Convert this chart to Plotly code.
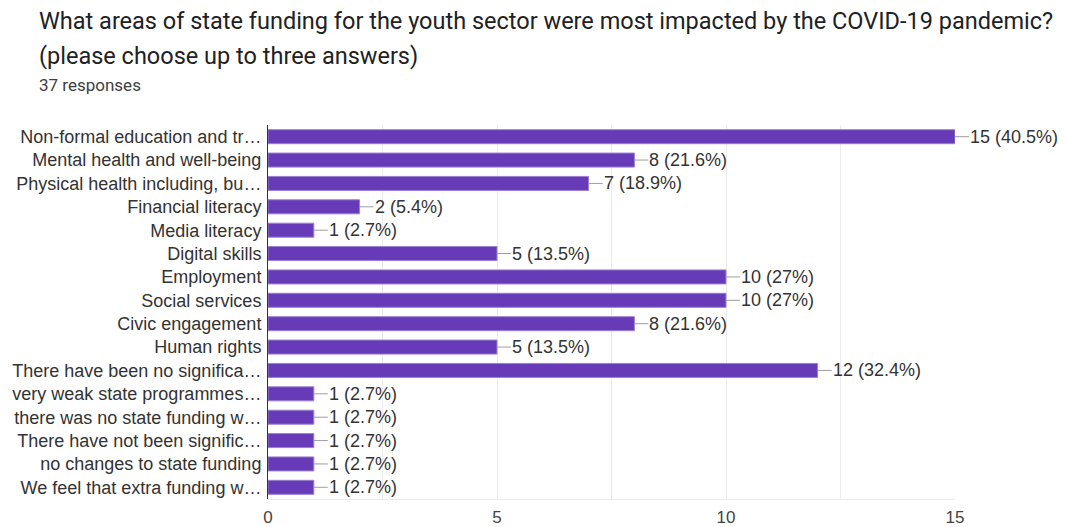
import plotly.graph_objects as go

# Survey question, answer options and response counts
title_line1 = "What areas of state funding for the youth sector were most impacted by the COVID-19 pandemic?"
title_line2 = "(please choose up to three answers)"
total_responses = 37

categories = [
    "Non-formal education and tr…",
    "Mental health and well-being",
    "Physical health including, bu…",
    "Financial literacy",
    "Media literacy",
    "Digital skills",
    "Employment",
    "Social services",
    "Civic engagement",
    "Human rights",
    "There have been no significa…",
    "very weak state programmes…",
    "there was no state funding w…",
    "There have not been signific…",
    "no changes to state funding",
    "We feel that extra funding w…",
]
counts = [15, 8, 7, 2, 1, 5, 10, 10, 8, 5, 12, 1, 1, 1, 1, 1]
x_ticks = [0, 5, 10, 15]


def pct_label(n):
    p = f"{100 * n / total_responses:.1f}".rstrip("0").rstrip(".")
    return f"{n} ({p}%)"


labels = [pct_label(n) for n in counts]

BAR = "#673ab7"
TEXT = "#333333"
SANS = "Liberation Sans, Arial, sans-serif"

L, R, T, B = 268, 112, 125, 28
PLOT_W = 1067 - L - R
TEXT_X = -(L - 37) / PLOT_W  # left edge of the header block, in paper units

fig = go.Figure()
fig.add_trace(go.Bar(
    x=counts,
    y=categories,
    orientation="h",
    marker=dict(color=BAR, line=dict(color="#9c80d0", width=1)),
    width=0.6,
    hoverinfo="x+y",
))

# value labels joined to the bar ends by a short grey leader line
for cat, n, lab in zip(categories, counts, labels):
    fig.add_annotation(
        x=n, y=cat, xref="x", yref="y",
        text=lab, showarrow=True, arrowhead=0, arrowwidth=1,
        arrowcolor="#9e9e9e", ax=14, ay=0, xanchor="left",
        standoff=0, startstandoff=0, borderpad=0,
        font=dict(family=SANS, size=18, color=TEXT),
    )

header = [
    (title_line1, 23.5, "#202124", 88),
    (title_line2, 23.5, "#202124", 53),
    (f"{total_responses} responses", 17, "#3c4043", 28),
]
for txt, size, color, shift in header:
    fig.add_annotation(
        text=txt, xref="paper", yref="paper", x=TEXT_X, y=1,
        xanchor="left", yanchor="bottom", yshift=shift, showarrow=False,
        font=dict(family="Roboto, sans-serif", size=size, color=color),
    )

fig.update_layout(
    width=1067, height=527,
    margin=dict(l=L, r=R, t=T, b=B, autoexpand=False),
    paper_bgcolor="white", plot_bgcolor="white",
    showlegend=False,
    bargap=0.4,
    xaxis=dict(
        range=[0, 15], tickvals=x_ticks, ticks="", showgrid=True,
        gridcolor="#ebebeb", gridwidth=1, zeroline=False,
        minor=dict(dtick=2.5, showgrid=True, gridcolor="#ebebeb"),
        showline=True, linecolor="#ebebeb", mirror=False,
        tickfont=dict(family=SANS, size=17, color="#444444"),
        ticklabelstandoff=3, automargin=False,
        fixedrange=True,
    ),
    yaxis=dict(
        autorange="reversed", showline=True, linecolor="#333333", linewidth=1,
        ticks="", showgrid=False, automargin=False,
        tickfont=dict(family=SANS, size=18, color=TEXT),
        ticklabelstandoff=2, fixedrange=True,
    ),
)

fig.write_html("out.html")
